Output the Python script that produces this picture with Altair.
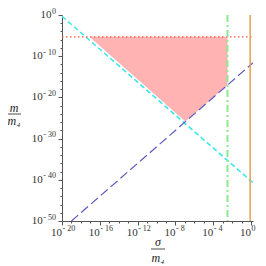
import altair as alt
import pandas as pd

# data (log10 values)
cyan_s = [-20.0, 0.2]
cyan_m = [-0.3, -40.7]
blue_s = [-19.0, 0.2]
blue_m = [-50.0, -11.6]
red_s = [-20.0, 0.2]
red_m = [-5.3, -5.3]
green_s = -2.5
orange_s = -0.1
fill_s = [-17.1, -6.95, -2.5]
fill_top = [-5.3, -5.3, -5.3]
fill_bot = [-5.3, -25.85, -17.0]

x_major = [-20, -16, -12, -8, -4, 0]
x_minor = list(range(-20, 1))
y_major = [0, -10, -20, -30, -40, -50]
y_minor = list(range(-50, 1, 2))

W, H = 191, 206
FONT = "Liberation Serif"
COL = "#333"

def p(v):
    return [10.0 ** a for a in v]

def exp_str(k):
    return "0" if k == 0 else "- " + str(abs(k))

def exp_w(k):
    return 4.0 if k == 0 else 2.7 + 2.0 + 4.0 * len(str(abs(k)))

xs = alt.Scale(type="log", domain=[1e-20, 10 ** 0.2], nice=False)
ys = alt.Scale(type="log", domain=[1e-50, 1.0], nice=False)

xaxis = alt.Axis(values=p(x_minor), labels=False, title=None, grid=False,
                 tickSize={"condition": {"test": "abs(round(log(datum.value)/LN10)) % 4 == 0", "value": 4}, "value": 2},
                 domainColor="#555", tickColor="#555")
yaxis = alt.Axis(values=p(y_minor), labels=False, title=None, grid=False,
                 tickSize={"condition": {"test": "abs(round(log(datum.value)/LN10)) % 10 == 0", "value": 4}, "value": 2},
                 domainColor="#555", tickColor="#555")

fill_df = pd.DataFrame({"x": p(fill_s), "y": p(fill_top), "y2": p(fill_bot)})
fill = alt.Chart(fill_df).mark_area(color="#ffb3b3", opacity=1).encode(
    x=alt.X("x:Q", scale=xs, axis=xaxis),
    y=alt.Y("y:Q", scale=ys, axis=yaxis),
    y2="y2:Q")

def line(s, m, color, dash, w):
    df = pd.DataFrame({"x": p(s), "y": p(m)})
    return alt.Chart(df).mark_line(color=color, strokeDash=dash, strokeWidth=w, clip=True).encode(
        x=alt.X("x:Q", scale=xs), y=alt.Y("y:Q", scale=ys))

cyan = line(cyan_s, cyan_m, "#33e8e8", [5, 3], 1.5)
blue = line(blue_s, blue_m, "#5b5bbf", [9, 4], 1.2)
red = line(red_s, red_m, "#ff5533", [1.5, 2.5], 1.2)

def vrule(s, color, dash, w):
    df = pd.DataFrame({"x": [10.0 ** s]})
    kw = dict(color=color, strokeWidth=w)
    if dash:
        kw["strokeDash"] = dash
    return alt.Chart(df).mark_rule(**kw).encode(x=alt.X("x:Q", scale=xs))

green = vrule(green_s, "#8ee88e", [7, 3, 2, 3], 2)
orange = vrule(orange_s, "#e8a050", None, 1.5)

# tick labels: "10" with a raised exponent
xl = pd.DataFrame({"v": p(x_major), "e": [exp_str(k) for k in x_major]})
x_base = alt.Chart(xl).mark_text(font=FONT, fontSize=11, color=COL, align="right", baseline="middle").encode(
    x=alt.X("v:Q", scale=xs), y=alt.value(H + 12), text=alt.value("10"))
x_exp = alt.Chart(xl).mark_text(font=FONT, fontSize=8, color=COL, align="left", baseline="middle", dx=0.5).encode(
    x=alt.X("v:Q", scale=xs), y=alt.value(H + 8), text="e:N")

yl = pd.DataFrame({"v": p(y_major), "e": [exp_str(k) for k in y_major],
                   "bx": [-6.5 - exp_w(k) for k in y_major]})
y_base = alt.Chart(yl).mark_text(font=FONT, fontSize=11, color=COL, align="right", baseline="middle").encode(
    y=alt.Y("v:Q", scale=ys), x=alt.X("bx:Q", scale=None), text=alt.value("10"))
y_exp = alt.Chart(yl).mark_text(font=FONT, fontSize=8, color=COL, align="right", baseline="middle", dy=-3.5).encode(
    y=alt.Y("v:Q", scale=ys), x=alt.value(-6), text="e:N")

def txt(t, x, y, size=12):
    return alt.Chart(pd.DataFrame({"t": [t]})).mark_text(
        font=FONT, fontStyle="italic", fontSize=size, color="#222", align="center", baseline="middle"
    ).encode(text="t:N", x=alt.value(x), y=alt.value(y))

def bar(x1, x2, y):
    return alt.Chart(pd.DataFrame({"a": [0]})).mark_rule(color="#222", strokeWidth=0.8).encode(
        x=alt.value(x1), x2=alt.value(x2), y=alt.value(y))

titles = [
    txt("m", -48, 93), bar(-55, -41, 99), txt("m₄", -48, 106),
    txt("σ", 96, 227), bar(89, 103, 234), txt("m₄", 96, 243),
]

chart = alt.layer(fill, cyan, blue, red, green, orange,
                  x_base, x_exp, y_base, y_exp, *titles).properties(
    width=W, height=H,
    autosize=alt.AutoSizeParams(type="none"),
    padding={"left": 54, "top": 7, "right": 5, "bottom": 44},
).configure_view(stroke=None)

chart.save("out.html", embed_options={"renderer": "svg", "actions": False})
